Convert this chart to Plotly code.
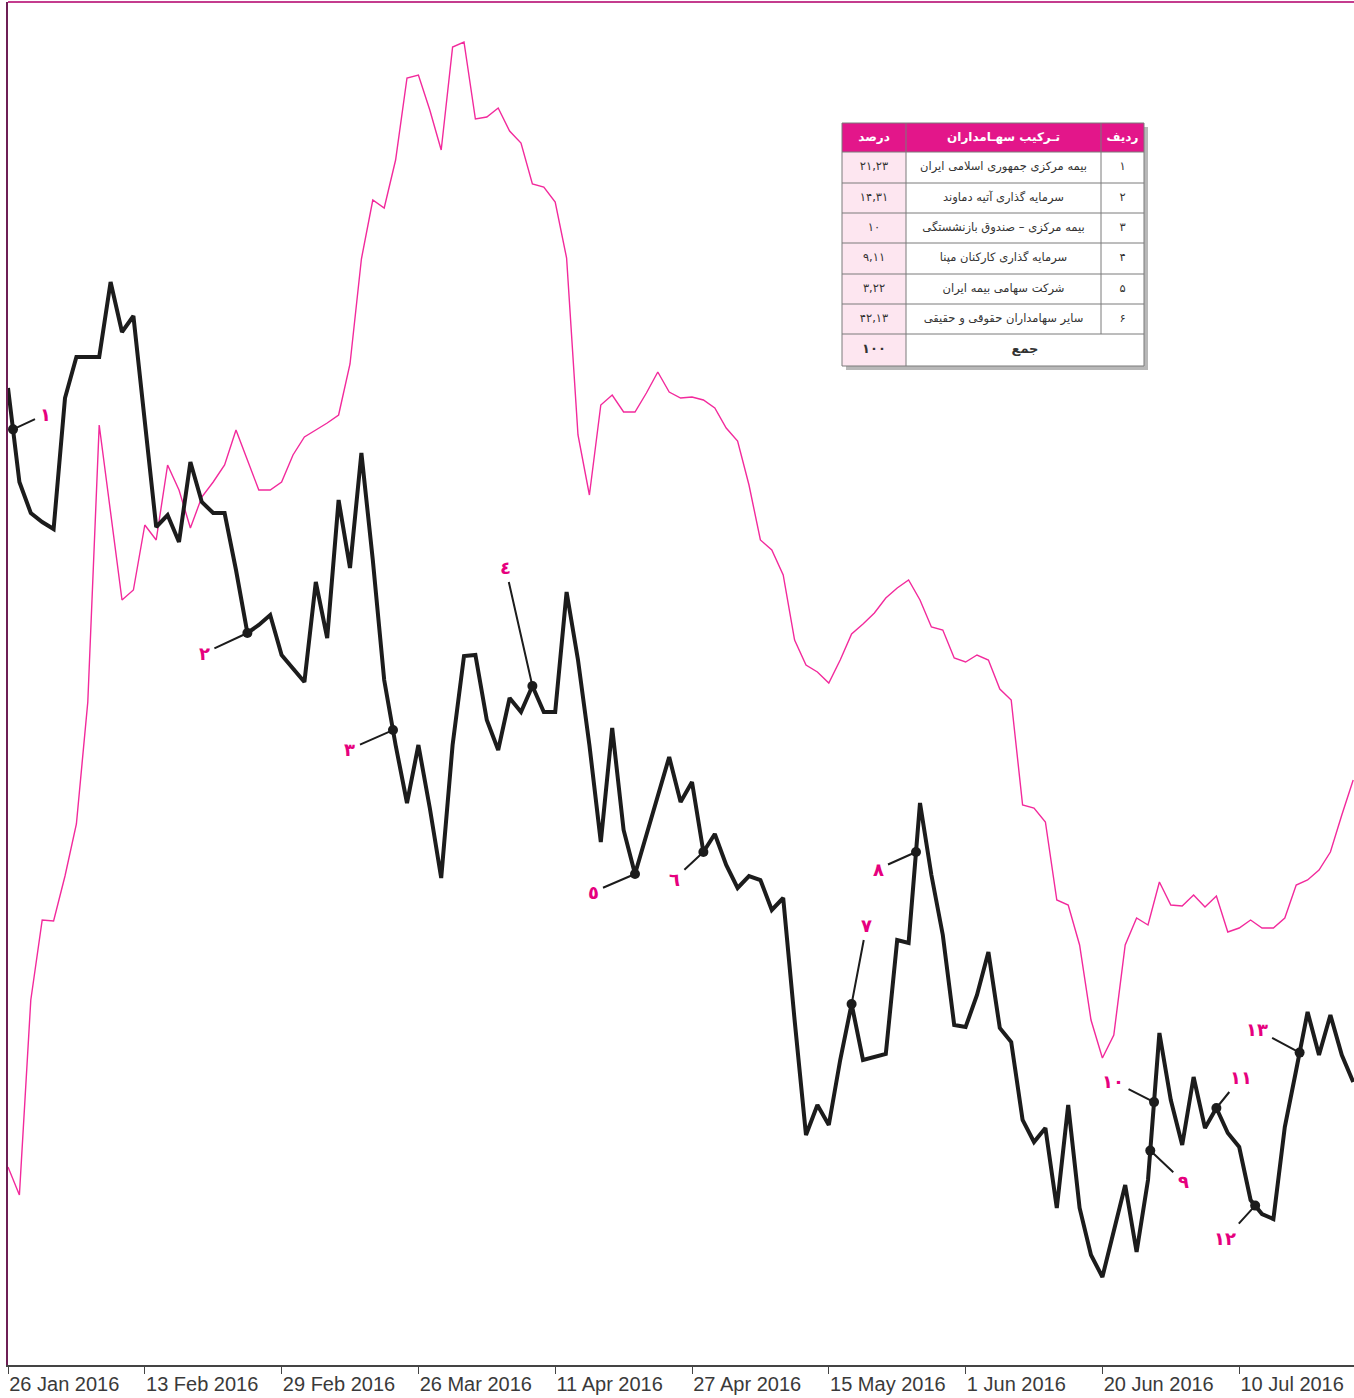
import numpy as np
import plotly.graph_objects as go

# ---------------- data ----------------
tick_labels = ["26 Jan 2016", "13 Feb 2016", "29 Feb 2016", "26 Mar 2016", "11 Apr 2016",
               "27 Apr 2016", "15 May 2016", "1 Jun 2016", "20 Jun 2016", "10 Jul 2016"]
bars_per_tick = 12

# black series (share price, arbitrary units)
price = [977, 883, 852, 843, 836, 967, 1008, 1008, 1008, 1083,
         1033, 1049, 945, 838, 850, 823, 903, 863, 852, 852,
         795, 732, 740, 750, 710, 697, 683, 783, 727, 865,
         797, 912, 805, 685, 620, 562, 620, 557, 487, 620,
         709, 710, 645, 615, 667, 653, 679, 653, 653, 773,
         705, 620, 523, 637, 535, 491, 530, 570, 608, 563,
         583, 513, 531, 500, 477, 489, 485, 455, 467, 345,
         230, 260, 240, 305, 361, 305, 308, 311, 425, 422,
         562, 490, 430, 340, 338, 370, 413, 337, 323, 245,
         223, 237, 157, 260, 157, 110, 88, 135, 180, 113,
         185, 332, 265, 220, 288, 237, 257, 232, 218, 165,
         151, 146, 238, 295, 353, 310, 350, 310, 283]

# magenta series (index, arbitrary units)
index_line = [198, 170, 365, 445, 444, 489, 541, 663, 940, 855,
              765, 775, 840, 825, 900, 875, 837, 868, 883, 900,
              935, 905, 875, 875, 883, 910, 928, 935, 942, 950,
              1001, 1106, 1165, 1157, 1205, 1287, 1290, 1255, 1215, 1318,
              1323, 1246, 1248, 1257, 1234, 1222, 1181, 1178, 1163, 1107,
              930, 870, 960, 970, 953, 953, 972, 993, 973, 967,
              968, 965, 957, 937, 924, 880, 825, 815, 790, 725,
              700, 693, 682, 705, 731, 741, 752, 767, 777, 785,
              765, 738, 735, 707, 703, 710, 705, 676, 665, 560,
              557, 543, 465, 460, 420, 345, 307, 330, 420, 447,
              440, 483, 460, 459, 470, 458, 469, 433, 437, 445,
              437, 437, 447, 480, 485, 495, 513, 550, 585]

# numbered points on the price line (bar position) and label offsets
point_pos = [0.44, 21, 33.77, 46, 55, 61, 74, 79.65, 100.2, 100.53, 106, 109.4, 113.3]
point_labels = ["۱", "۲", "۳", "٤", "٥", "٦", "۷", "۸", "۹", "۱۰", "۱۱", "۱۲", "۱۳"]
label_dx = [32, -43, -43, -27, -42, -29, 15, -38, 33, -41, 25, -30, -43]
label_dy = [-15, 20, 19, -119, 18, 27, -79, 17, 31, -21, -31, 33, -23]

# shareholder table
tbl_header = ["درصد", "تـرکیب سهـامداران", "ردیف"]
tbl_rows = ["۱", "۲", "۳", "۴", "۵", "۶"]
tbl_names = ["بیمه مرکزی جمهوری اسلامی ایران", "سرمایه گذاری آتیه دماوند",
             "بیمه مرکزی – صندوق بازنشستگی", "سرمایه گذاری کارکنان مپنا",
             "شرکت سهامی بیمه ایران", "سایر سهامداران حقوقی و حقیقی"]
tbl_pct = ["۲۱,۲۳", "۱۴,۳۱", "۱۰", "۹,۱۱", "۳,۲۲", "۴۲,۱۳"]
tbl_total_label = "جمع"
tbl_total = "۱۰۰"

# ---------------- figure ----------------
W, H = 1354, 1398
ML, MR, MT, MB = 8, 0, 2, 33
PW, PH = W - ML - MR, H - MT - MB
BAR_PX = 11.4

n = len(price)
idx = np.arange(n)

MAG = "#f22a9c"
TXT_MAG = "#e6007e"
AR_FONT = "DejaVu Sans"


def px2x(p):
    return (p - ML) / PW


def px2y(p):
    return (H - MB - p) / PH


def dxv(p):  # pixel -> x data
    return (p - ML) / BAR_PX


def dyv(p):  # pixel -> y data
    return H - MB - p


fig = go.Figure()
fig.add_trace(go.Scatter(x=idx, y=index_line, mode="lines",
                         line=dict(color=MAG, width=1.4), hoverinfo="skip"))
fig.add_trace(go.Scatter(x=idx, y=price, mode="lines",
                         line=dict(color="#1c1c1c", width=4), hoverinfo="skip"))

py = np.interp(point_pos, idx, price)
fig.add_trace(go.Scatter(x=point_pos, y=py, mode="markers",
                         marker=dict(color="#1c1c1c", size=10), hoverinfo="skip"))

annotations = []
for xp, yv, lab, dx, dy in zip(point_pos, py, point_labels, label_dx, label_dy):
    annotations.append(dict(x=xp, y=yv, xref="x", yref="y", text="<b>%s</b>" % lab,
                            showarrow=True, arrowhead=0, arrowwidth=2, arrowcolor="#1c1c1c",
                            ax=dx, ay=dy, standoff=0, borderpad=4,
                            font=dict(family=AR_FONT, size=18, color=TXT_MAG)))

shapes = []
shapes.append(dict(type="line", xref="paper", yref="paper", x0=0, x1=1, y0=1, y1=1,
                   line=dict(color="#c43c8e", width=2), layer="above"))

# table geometry (pixels)
cx = [842, 906, 1101, 1144]
ry = [123, 152, 183, 213, 243, 274, 304, 334, 366]
TL = "below"
shapes.append(dict(type="rect", xref="paper", yref="paper",
                   x0=px2x(cx[0] + 4), x1=px2x(cx[-1] + 4), y0=px2y(ry[-1] + 4), y1=px2y(ry[0] + 4),
                   fillcolor="rgba(0,0,0,0.28)", line=dict(width=0), layer=TL))
shapes.append(dict(type="rect", xref="paper", yref="paper",
                   x0=px2x(cx[0]), x1=px2x(cx[-1]), y0=px2y(ry[-1]), y1=px2y(ry[0]),
                   fillcolor="white", line=dict(width=0), layer=TL))
shapes.append(dict(type="rect", xref="paper", yref="paper",
                   x0=px2x(cx[0]), x1=px2x(cx[1]), y0=px2y(ry[-1]), y1=px2y(ry[1]),
                   fillcolor="#fde6f0", line=dict(width=0), layer=TL))
shapes.append(dict(type="rect", xref="paper", yref="paper",
                   x0=px2x(cx[0]), x1=px2x(cx[-1]), y0=px2y(ry[1]), y1=px2y(ry[0]),
                   fillcolor="#e3168a", line=dict(width=0), layer=TL))
GRID = "#7a7a7a"
for yy in ry:
    shapes.append(dict(type="line", xref="paper", yref="paper", x0=px2x(cx[0]), x1=px2x(cx[-1]),
                       y0=px2y(yy), y1=px2y(yy), line=dict(color=GRID, width=1), layer=TL))
for j, xx in enumerate(cx):
    ybot = ry[-1] if j in (0, 1, 3) else ry[-2]
    shapes.append(dict(type="line", xref="paper", yref="paper", x0=px2x(xx), x1=px2x(xx),
                       y0=px2y(ybot), y1=px2y(ry[0]), line=dict(color=GRID, width=1), layer=TL))

col_c = [(cx[0] + cx[1]) / 2, (cx[1] + cx[2]) / 2, (cx[2] + cx[3]) / 2]

# header text
fig.add_trace(go.Scatter(
    x=[dxv(c) for c in col_c], y=[dyv((ry[0] + ry[1]) / 2)] * 3, mode="text",
    text=["<b>%s</b>" % t for t in tbl_header], textposition="middle center",
    textfont=dict(family=AR_FONT, size=12, color="white"), hoverinfo="skip"))
# body text
bx, by, bt = [], [], []
for i in range(len(tbl_rows)):
    yc = dyv((ry[i + 1] + ry[i + 2]) / 2)
    for c, t in zip(col_c, [tbl_pct[i], tbl_names[i], tbl_rows[i]]):
        bx.append(dxv(c))
        by.append(yc)
        bt.append(t)
fig.add_trace(go.Scatter(x=bx, y=by, text=bt, mode="text", textposition="middle center",
                         textfont=dict(family=AR_FONT, size=11.5, color="#333333"),
                         hoverinfo="skip"))
# total row
yc = dyv((ry[-2] + ry[-1]) / 2)
fig.add_trace(go.Scatter(x=[dxv(col_c[0]), dxv((cx[1] + cx[3]) / 2)], y=[yc, yc],
                         text=["<b>%s</b>" % tbl_total, "<b>%s</b>" % tbl_total_label],
                         mode="text", textposition="middle center",
                         textfont=dict(family=AR_FONT, size=13, color="#333333"),
                         hoverinfo="skip"))

fig.update_layout(
    width=W, height=H, margin=dict(l=ML, r=MR, t=MT, b=MB),
    paper_bgcolor="white", plot_bgcolor="white", showlegend=False,
    shapes=shapes, annotations=annotations,
    xaxis=dict(range=[0, PW / BAR_PX], tickvals=list(idx[::bars_per_tick]), ticktext=tick_labels,
               ticklabelposition="outside right", ticks="outside", ticklen=7, tickcolor="#444",
               showline=True, linecolor="#444", linewidth=1.5, showgrid=False, zeroline=False,
               tickfont=dict(family="Liberation Sans", size=20, color="#3a3a3a")),
    yaxis=dict(range=[0, PH], showticklabels=False, ticks="", showgrid=False, zeroline=False,
               showline=True, linecolor="#6e1f55", linewidth=2),
)

fig.write_html("out.html", config={"displayModeBar": False},
               post_script="document.body.style.margin='0px';document.body.style.overflow='hidden';")
